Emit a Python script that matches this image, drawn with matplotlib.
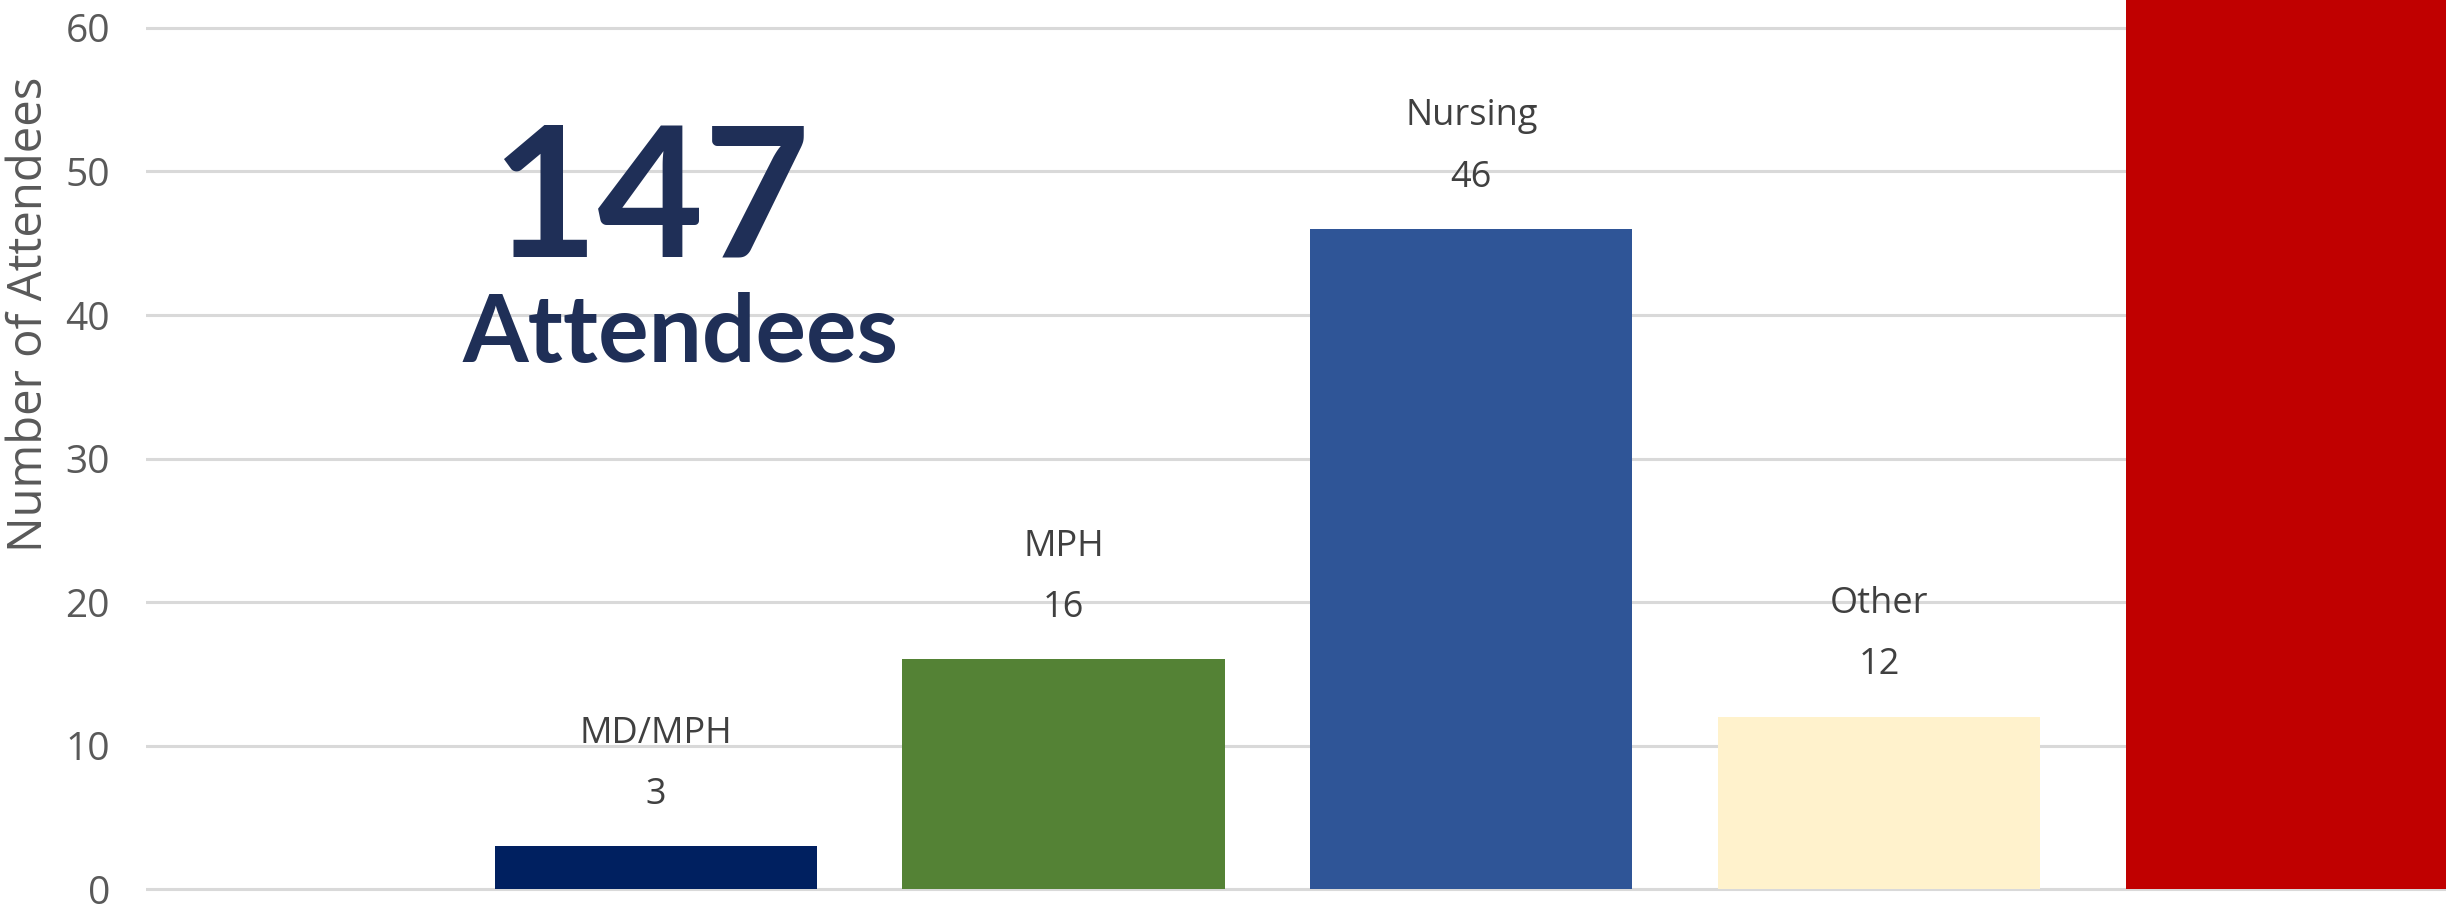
import numpy as np
import matplotlib.pyplot as plt

# data
categories = ['MD/MPH', 'MPH', 'Nursing', 'Other', 'MD']
attendees = [3, 16, 46, 12, 70]
positions = [1, 2, 3, 4, 5]
total_label = '147'

bar_colors = ['#002060', '#548235', '#2f5597', '#fff2cc', '#c00000']
text_gray = '#595959'
navy = '#1f2f57'

W, H = 2446, 908
fig = plt.figure(figsize=(W / 100, H / 100), dpi=100)
ax = fig.add_axes([146 / W, 0, 1 - 146 / W, 1])

ax.bar(positions, attendees, width=0.79, color=bar_colors, zorder=3)

ax.set_xlim(-0.25, 5.39)
ax.set_ylim(-1.32, 61.95)
ax.set_yticks(np.arange(0, 61, 10))
ax.set_xticks([])
ax.yaxis.grid(True, color='#d9d9d9', linewidth=2.2, zorder=0)
ax.tick_params(axis='y', length=0, pad=26, labelsize=28, labelcolor=text_gray)
for lab in ax.get_yticklabels():
    lab.set_family('Open Sans')
for s in ax.spines.values():
    s.set_visible(False)

# labels above bars: name, then value
for x, v, name in zip(positions, attendees, categories):
    ax.annotate(str(v), (x, v), xytext=(0, 37), textcoords='offset points',
                ha='center', va='center', fontsize=26, color='#404040',
                family='Open Sans', annotation_clip=True)
    ax.annotate(name, (x, v), xytext=(0, 81), textcoords='offset points',
                ha='center', va='center', fontsize=26, color='#404040',
                family='Open Sans', annotation_clip=True)

fig.text(29 / W, 1 - 314 / H, 'Number of Attendees', rotation=90,
         ha='center', va='center', fontsize=34, color=text_gray,
         family='Open Sans')

# big total callout
fig.text(651 / W, 1 - 257 / H, total_label, ha='center', va='baseline',
         fontsize=132, fontweight='bold', color=navy, family='Lato')
fig.text(681 / W, 1 - 362 / H, 'Attendees', ha='center', va='baseline',
         fontsize=68, fontweight='bold', color=navy, family='Lato')

fig.savefig('out.png', dpi=100, facecolor='white')
